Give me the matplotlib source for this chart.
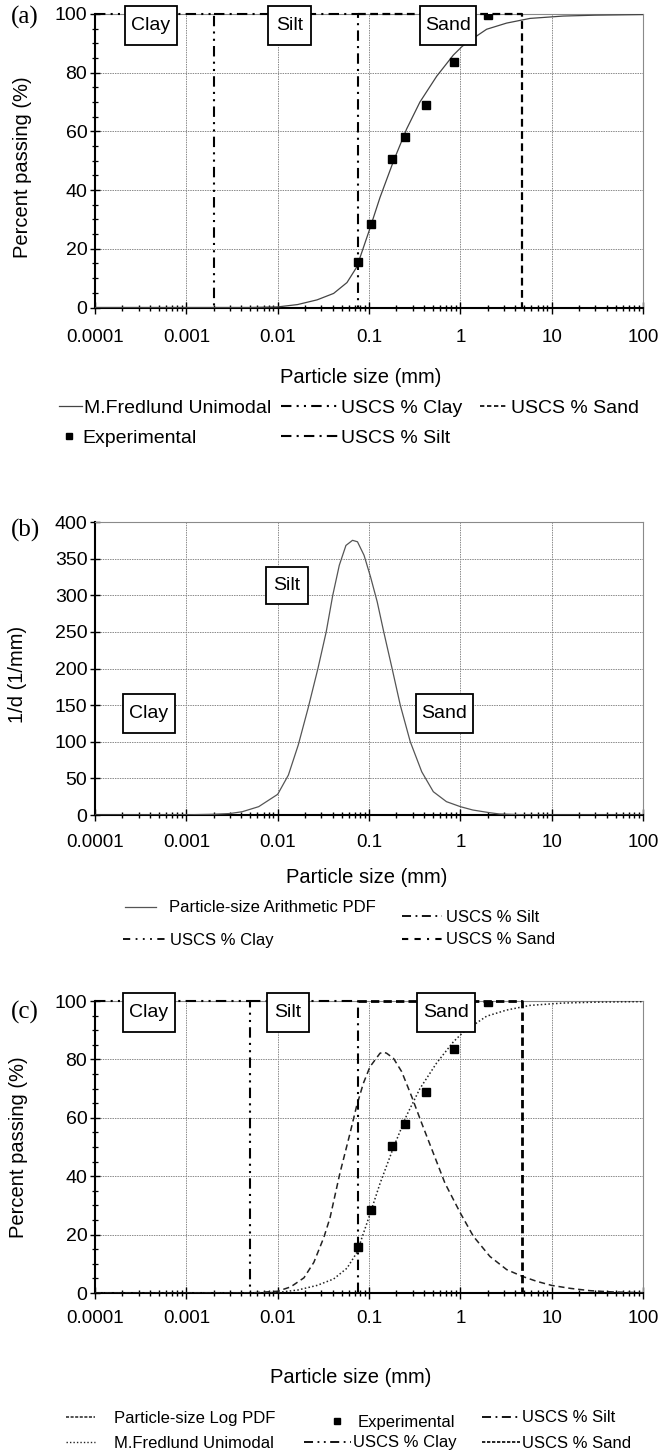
import matplotlib
matplotlib.use('Agg')
import matplotlib.pyplot as plt
from matplotlib.lines import Line2D
from matplotlib.patches import Rectangle
from matplotlib.ticker import FixedLocator, FixedFormatter, MultipleLocator, NullFormatter

plt.rcParams['font.family'] = ['Liberation Sans', 'DejaVu Sans']

# ---------------- data ----------------
xtick_values = [0.0001, 0.001, 0.01, 0.1, 1, 10, 100]
xtick_labels = ['0.0001', '0.001', '0.01', '0.1', '1', '10', '100']

exp_size = [0.075, 0.106, 0.18, 0.25, 0.425, 0.85, 2.0]
exp_pct = [15.6, 28.5, 50.5, 58.0, 69.0, 83.5, 99.8]

fredlund_size = [0.0001, 0.001, 0.005, 0.01, 0.0165, 0.027, 0.041, 0.0574, 0.0735, 0.1,
                 0.132, 0.185, 0.258, 0.361, 0.551, 0.838, 1.05, 1.28, 1.94, 3.21,
                 5.8, 13.4, 30, 100]
fredlund_pct = [0, 0, 0, 0.2, 1.0, 2.6, 4.8, 8.5, 13.8, 26.0,
                37.5, 49.8, 60.8, 70.0, 78.8, 86.0, 89.0, 91.0, 94.8, 96.9,
                98.5, 99.3, 99.6, 99.8]

arith_size = [0.0001, 0.001, 0.002, 0.003, 0.0041, 0.0062, 0.01, 0.0131, 0.0168, 0.0215,
              0.0276, 0.034, 0.0401, 0.0473, 0.0559, 0.066, 0.0748, 0.0883, 0.104, 0.123,
              0.145, 0.179, 0.22, 0.283, 0.378, 0.506, 0.705, 1.0, 1.37, 2.08, 2.67, 5, 10, 100]
arith_val = [0, 0.3, 1.0, 2.0, 4.5, 11.4, 28.2, 54.5, 95.5, 145.5,
             200, 250, 300, 341, 368, 375, 373, 354.5, 325, 291,
             250, 200, 150, 100, 59, 31.8, 18.2, 11.4, 6.8, 3.2, 1.4, 0.3, 0, 0]

logpdf_size = [0.0001, 0.001, 0.005, 0.01, 0.0139, 0.0194, 0.0249, 0.032, 0.0374, 0.048,
               0.062, 0.073, 0.0867, 0.1026, 0.132, 0.144, 0.156, 0.185, 0.228, 0.293,
               0.377, 0.506, 0.679, 1.0, 1.39, 2.11, 3.22, 4.77, 6.85, 10, 15.9, 26.2, 47, 100]
logpdf_pct = [0, 0, 0, 0.6, 2.1, 5.2, 10.5, 19.0, 25.7, 41.0,
              54.7, 63.9, 71.8, 77.5, 82.1, 82.5, 82.1, 80.4, 75.8, 67.3,
              58.2, 47.9, 37.6, 27.4, 19.4, 12.5, 8.0, 5.7, 4.0, 2.6, 1.6, 0.8, 0.35, 0.1]

# USCS boundaries (mm)
clay_a, silt_a, sand_a = 0.002, 0.075, 4.75
clay_c, silt_c, sand_c = 0.005, 0.075, 4.75
uscs_pct = [100, 100, 0]

# ---------------- layout helpers ----------------
W, H = 665, 1456
fig = plt.figure(figsize=(W / 100, H / 100), dpi=100)


def rect(l, t, r, b):
    return [l / W, 1 - b / H, (r - l) / W, (b - t) / H]


CLAY_LS = (0, (5, 2.5, 1, 2.5, 1, 2.5))
SILT_LS = (0, (5, 2.5, 1, 2.5))
SAND_LS = (0, (3.5, 2))
GRID_C = '#8a8a8a'
minor_x = [m * 10.0 ** e for e in range(-4, 2) for m in range(2, 10)]


def style_axes(ax, ymax, ymajor, yminor, xpad):
    ax.set_xscale('log')
    ax.set_xlim(1e-4, 100)
    ax.set_ylim(0, ymax)
    ax.xaxis.set_major_locator(FixedLocator(xtick_values))
    ax.xaxis.set_major_formatter(FixedFormatter(xtick_labels))
    ax.xaxis.set_minor_locator(FixedLocator(minor_x))
    ax.xaxis.set_minor_formatter(NullFormatter())
    ax.yaxis.set_major_locator(MultipleLocator(ymajor))
    if yminor:
        ax.yaxis.set_minor_locator(MultipleLocator(yminor))
    ax.tick_params(axis='x', which='major', direction='inout', length=8, width=1.0,
                   pad=xpad, labelsize=13.5)
    ax.tick_params(axis='x', which='minor', direction='inout', length=5, width=1.0)
    ax.tick_params(axis='y', which='major', direction='inout', length=7, width=1.0,
                   pad=2, labelsize=14)
    ax.tick_params(axis='y', which='minor', direction='inout', length=4, width=0.9)
    ax.grid(True, which='major', color=GRID_C, lw=0.7, ls=(0, (1.5, 1)))
    for s in ('left', 'bottom'):
        ax.spines[s].set_color('black')
        ax.spines[s].set_linewidth(1.5)
    for s in ('top', 'right'):
        ax.spines[s].set_color(GRID_C)
        ax.spines[s].set_linewidth(0.8)


def box(l, t, r, b, label):
    fig.add_artist(Rectangle((l / W, 1 - b / H), (r - l) / W, (b - t) / H,
                             transform=fig.transFigure, facecolor='white',
                             edgecolor='black', lw=1.3, zorder=3))
    fig.text((l + r) / 2 / W, 1 - (t + b) / 2 / H, label, ha='center', va='center',
             fontsize=14, zorder=4)


def leg(handle, label, x, y, hl, htp, fs):
    fig.legend(handles=[handle], labels=[label], loc='center left',
               bbox_to_anchor=(x / W, 1 - y / H), frameon=False, borderpad=0,
               borderaxespad=0, handlelength=hl, handletextpad=htp, fontsize=fs)


def panel_label(txt, y):
    fig.text(25 / W, 1 - y / H, txt, ha='center', va='center', fontsize=18,
             family=['Liberation Serif', 'DejaVu Serif'])


# ---------------- panel (a) ----------------
axa = fig.add_axes(rect(95, 14, 643, 307.5))
style_axes(axa, 100, 20, 5, 11.5)
axa.plot(fredlund_size, fredlund_pct, color='#444444', lw=0.9, zorder=3)
axa.plot(exp_size, exp_pct, 's', color='black', ms=5.5, zorder=4)
axa.plot([1e-4, clay_a, clay_a], uscs_pct, color='black', lw=1.5, ls=CLAY_LS, clip_on=False, zorder=5)
axa.plot([clay_a, silt_a, silt_a], uscs_pct, color='black', lw=1.5, ls=SILT_LS, clip_on=False, zorder=5)
axa.plot([silt_a, sand_a, sand_a], uscs_pct, color='black', lw=1.6, ls=SAND_LS, clip_on=False, zorder=5)
axa.set_ylabel('Percent passing (%)', fontsize=14.5, va='center')
axa.yaxis.set_label_coords(-0.1314, 0.479)
axa.set_xlabel('Particle size (mm)', fontsize=14.5, va='center')
axa.xaxis.set_label_coords(0.485, -0.240)
panel_label('(a)', 17.5)
box(125, 6, 177, 45, 'Clay')
box(268, 6, 311, 45, 'Silt')
box(420, 6, 476, 45, 'Sand')

leg(Line2D([], [], color='#444444', lw=0.9), 'M.Fredlund Unimodal', 59, 408, 1.18, 0.13, 14)
leg(Line2D([], [], color='black', lw=1.5, ls=CLAY_LS), 'USCS % Clay', 281, 408, 2.93, 0.18, 14)
leg(Line2D([], [], color='black', lw=1.2, ls=(0, (2.6, 1.6))), 'USCS % Sand', 480, 408, 1.39, 0.2, 14)
leg(Line2D([], [], color='black', ls='none', marker='s', ms=5), 'Experimental', 62, 438, 0.7, 0.34, 14)
leg(Line2D([], [], color='black', lw=1.5, ls=SILT_LS), 'USCS % Silt', 281, 438, 2.93, 0.18, 14)

# ---------------- panel (b) ----------------
axb = fig.add_axes(rect(95, 522, 643, 815))
style_axes(axb, 400, 50, None, 10)
axb.plot(arith_size, arith_val, color='#555555', lw=0.9, zorder=3)
axb.set_ylabel('1/d (1/mm)', fontsize=14.5, va='center')
axb.yaxis.set_label_coords(-0.1423, 0.481)
axb.set_xlabel('Particle size (mm)', fontsize=14.5, va='center')
axb.xaxis.set_label_coords(0.496, -0.212)
panel_label('(b)', 530)
box(266, 567, 308, 604, 'Silt')
box(123, 694, 175, 733, 'Clay')
box(416, 694, 473, 733, 'Sand')

leg(Line2D([], [], color='#555555', lw=0.9), 'Particle-size Arithmetic PDF', 124.7, 908, 1.9, 0.76, 12)
leg(Line2D([], [], color='black', lw=1.3, ls=SILT_LS), 'USCS % Silt', 401.5, 917, 2.4, 0.26, 12)
leg(Line2D([], [], color='black', lw=1.3, ls=(0, (4, 3, 1, 3, 1, 3, 1, 3))), 'USCS % Clay', 122.6, 940, 2.66, 0.18, 12)
leg(Line2D([], [], color='black', lw=1.5, ls=(0, (3, 3, 3, 3, 1, 3))), 'USCS % Sand', 401.5, 940, 2.4, 0.26, 12)

# ---------------- panel (c) ----------------
axc = fig.add_axes(rect(95, 1001, 643, 1293))
style_axes(axc, 100, 20, 5, 8)
axc.plot(logpdf_size, logpdf_pct, color='#222222', lw=1.1, ls=(0, (4, 2.5)), zorder=3)
axc.plot(fredlund_size, fredlund_pct, color='#222222', lw=1.1, ls=(0, (1, 1.5)), zorder=3)
axc.plot(exp_size, exp_pct, 's', color='black', ms=6, zorder=4)
axc.plot([1e-4, clay_c, clay_c], uscs_pct, color='black', lw=1.5, ls=CLAY_LS, clip_on=False, zorder=5)
axc.plot([clay_c, silt_c, silt_c], uscs_pct, color='black', lw=1.5, ls=SILT_LS, clip_on=False, zorder=5)
axc.plot([silt_c, sand_c, sand_c], uscs_pct, color='black', lw=2.0, ls=(0, (3, 1.5)), clip_on=False, zorder=5)
axc.set_ylabel('Percent passing (%)', fontsize=14.5, va='center')
axc.yaxis.set_label_coords(-0.1387, 0.5)
axc.set_xlabel('Particle size (mm)', fontsize=14.5, va='center')
axc.xaxis.set_label_coords(0.467, -0.291)
panel_label('(c)', 1012.5)
box(123, 993, 175, 1032, 'Clay')
box(267, 993, 309, 1032, 'Silt')
box(417, 993, 475, 1032, 'Sand')

leg(Line2D([], [], color='#222222', lw=1.1, ls=(0, (2, 1))), 'Particle-size Log PDF', 65.5, 1418, 1.77, 1.14, 12)
leg(Line2D([], [], color='#222222', lw=1.0, ls=(0, (1, 1.5))), 'M.Fredlund Unimodal', 65.5, 1443, 1.77, 1.14, 12)
leg(Line2D([], [], color='black', ls='none', marker='s', ms=5), 'Experimental', 332, 1422, 0.6, 0.96, 12)
leg(Line2D([], [], color='black', lw=1.3, ls=CLAY_LS), 'USCS % Clay', 304, 1443, 2.82, 0.12, 12)
leg(Line2D([], [], color='black', lw=1.3, ls=SILT_LS), 'USCS % Silt', 482, 1418, 2.28, 0.12, 12)
leg(Line2D([], [], color='black', lw=1.2, ls=(0, (2, 1))), 'USCS % Sand', 482, 1443, 2.28, 0.12, 12)

fig.savefig('out.png', dpi=100, facecolor='white')
